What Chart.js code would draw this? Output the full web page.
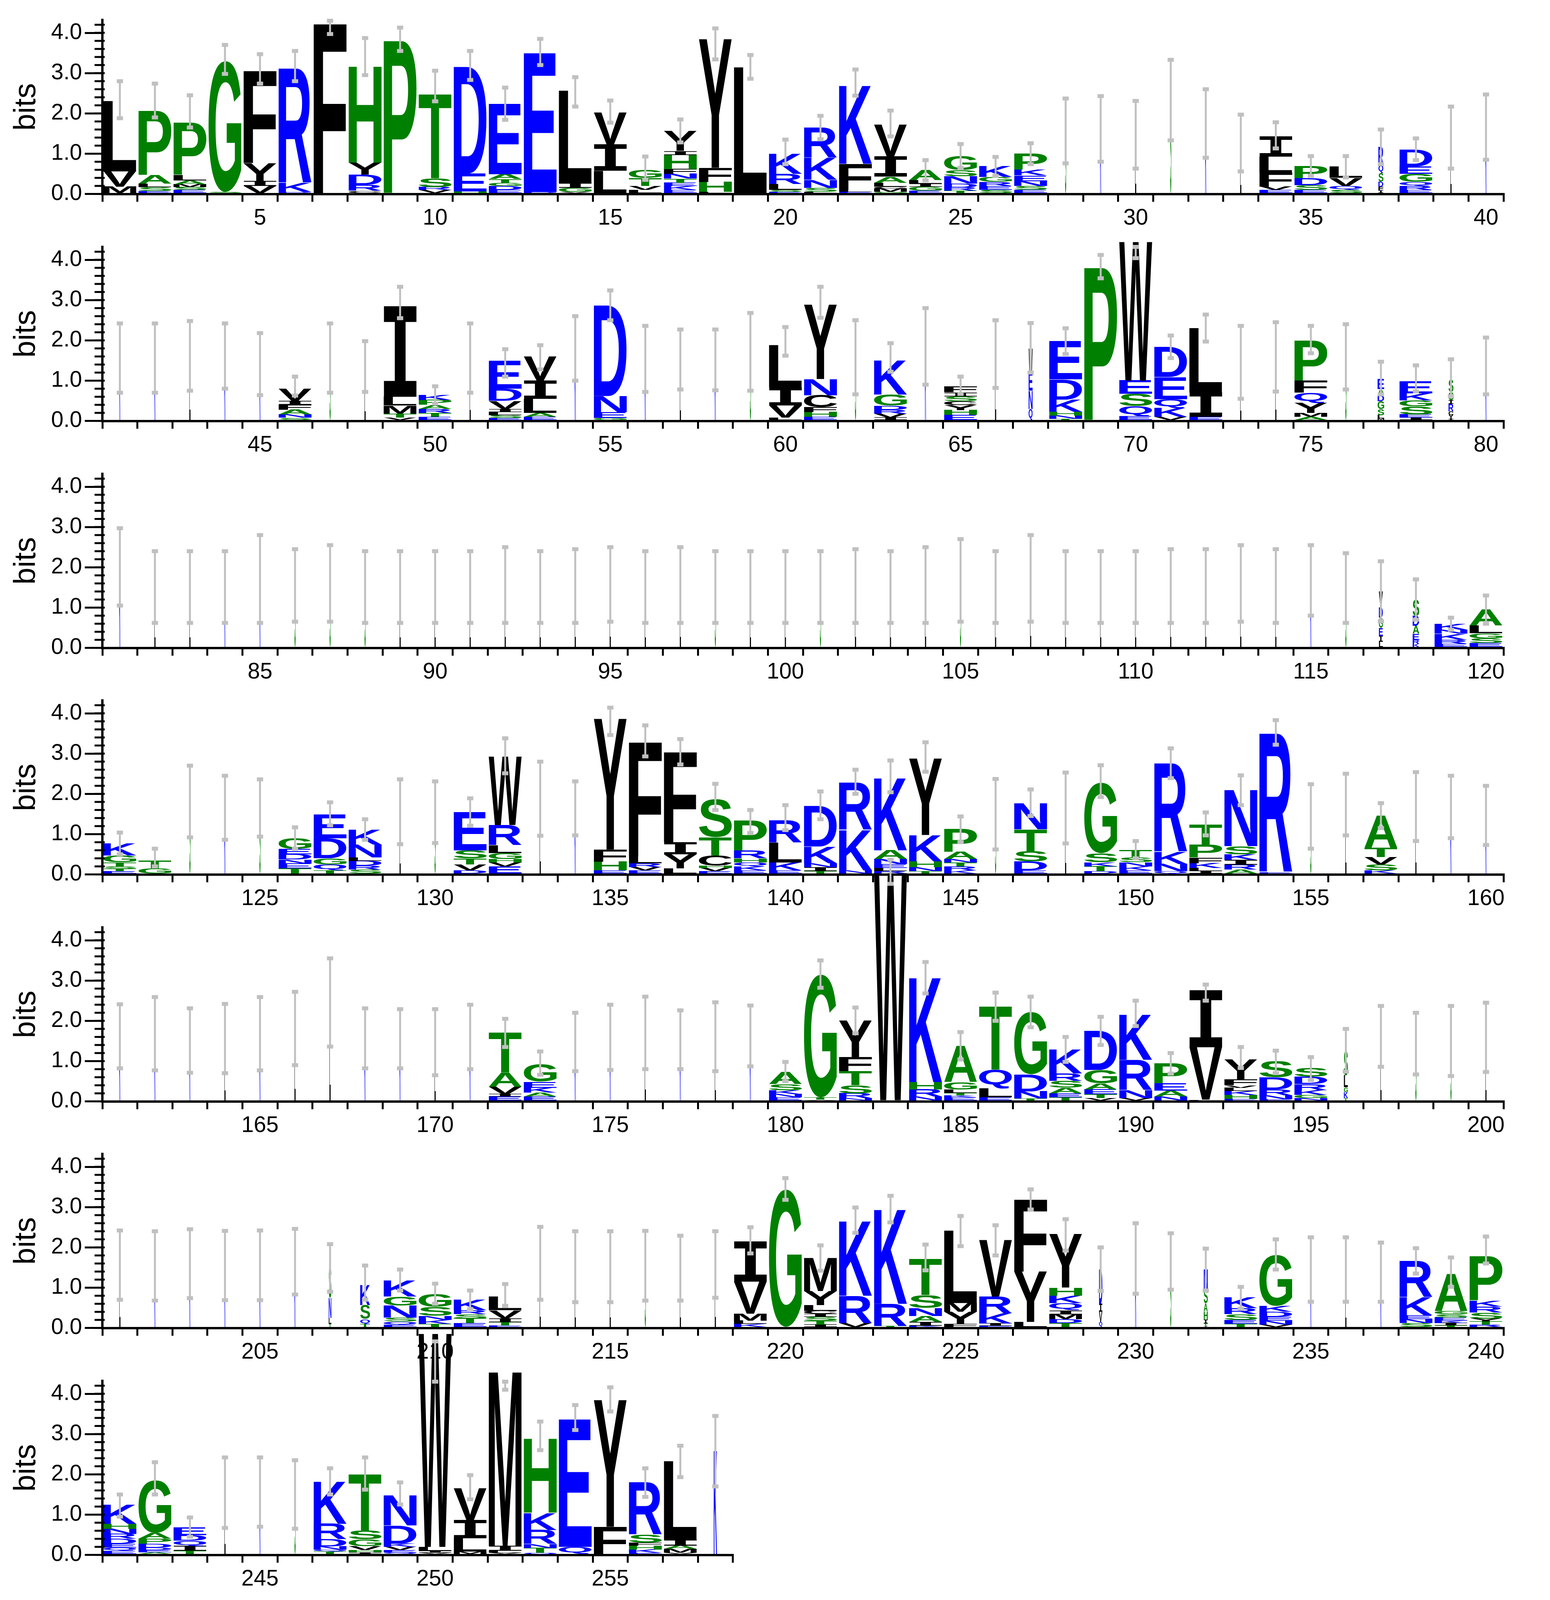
<!DOCTYPE html>
<html><head><meta charset="utf-8">
<script src="https://cdn.jsdelivr.net/npm/chart.js@4.4.1/dist/chart.umd.min.js"></script>
<style>
html,body{margin:0;padding:0;background:#fff;width:3967px;height:4167px;overflow:hidden;position:relative}
canvas{position:absolute;left:0}
#foot{position:absolute;right:118px;top:4095px;font:48px "Liberation Sans",Arial,sans-serif;color:#000}
</style></head><body>
<div id="foot">WebLogo 3.4</div>
<script>
// ---------------- DATA ----------------
const positions = Array.from({length:258},(_,i)=>String(i+1));
const rowStarts = [1,41,81,121,161,201,241];
const rowLengths = [40,40,40,40,40,40,18];
const yTicks = [0,1,2,3,4];
// stacks: letters bottom -> top with heights in bits
const stacks = [
"M.18 V.38 L1.75","E.07 S.1 L.09 A.21 P1.6","E.1 S.07 M.07 A.1 L.14 P1.3","S.05 G3.25","V.2 I.12 Y.45 F2.3",
"D.05 K.22 R2.85","F4.25","C.08 R.15 D.25 Y.3 H2.4","S.03 P3.8","V.1 R.07 S.22 T2.1",
"H.06 E.45 D2.65","E.1 D.1 G.07 T.1 A.12 E1.75","D.05 E3.45","V.05 G.1 I.12 L2.3","Q.03 L.55 I.65 V.8",
"L.1 V.1 T.2 G.2","E.1 K.1 E.08 T.1 N.12 F.12 H.35 I.1 Y.5","L.05 H.25 F.35 Y3.2","L3.15","E.05 S.05 L.15 R.25 K.5",
"L.05 S.1 N.2 K.55 R.75","E.05 L.05 F.65 K1.95","G.05 M.08 C.05 L.1 A.15 I.5 V.8","E.08 G.1 I.08 L.08 A.25","T.08 R.08 D.1 N.18 S.15 G.35",
"S.1 E.1 R.1 G.12 K.27","E.1 S.1 N.12 E.14 K.15 P.4","S1.55","K1.6","L1.45",
"S2.3","K1.75","L1.25","E.1 V.08 F.35 L.4 I.5","E.1 S.12 D.17 P.3",
"S.1 Q.1 V.2 L.28","I.08 F.1 D.12 S.22 Q.2 R.45","E.1 R.1 Q.1 G.2 E.18 D.42","L1.4","K1.65",
"K1.55","K1.55","L1.6","K1.6","K1.4",
"S.08 N.08 A.12 F.12 I.1 V.3","S1.55","L1.35","V.08 T.1 M.2 L.22 I2.25","E.1 T.1 R.1 A.1 P.12 K.12",
"L1.55","E.07 S.07 L.08 I.08 V.2 D.3 E.7","E.1 A.1 L.35 I.45 V.6","K1.8","G.07 E.15 N.4 D2.25",
"K1.55","L1.5","K1.5","S1.7","L.08 V.3 I.45 L1.05",
"E.1 H.12 F.12 C.3 N.4 Y1.85","S1.6","I.08 V.1 R.1 D.1 G.28 K.85","K1.85","E.15 H.12 Y.12 C.1 S.12 I.1 F.15",
"L1.65","Q.3 N.45 E.45 W.6","T.05 N.08 H.1 K.3 D.5 E.95","G.03 P3.8","E.12 Q.25 S.3 E.33 W3.45",
"V.1 K.22 Q.22 E.55 D.75","E.1 I.6 L1.6","L1.45","L1.6","A.1 M.1 Y.25 Q.25 F.3 P1.0",
"S1.6","M.06 L.08 S.15 G.2 D.15 A.15 E.25","I.08 E.08 S.2 G.15 K.17 E.3","I.06 Y.08 C.1 R.18 I.1 G.2 S.3","K1.35",
"K2.0","L1.5","L1.5","K1.5","K1.7","S1.55","S1.6","S1.5","L1.5","L1.5",
"L1.5","L1.55","L1.5","L1.55","L1.6","L1.5","L1.55","S1.5","L1.5","L1.5",
"S1.5","L1.55","L1.5","L1.6","S1.65","L1.5","L1.7","L1.5","L1.5","L1.5",
"L1.55","L1.55","L1.6","L1.55","K1.65","S1.5","L.15 I.15 E.2 G.25 D.25 V.4","K.1 R.1 E.15 A.2 D.25 S.4","E.1 R.1 K.15 N.1 K.15","E.12 S.12 G.12 L.2 A.4",
"E.08 T.06 S.06 T.1 G.17 K.3","G.15 T.2","S1.8","K1.65","S1.65",
"T.15 E.12 N.1 D.13 E.13 G.27","T.1 Q.15 G.15 D.5 E.6","S.12 R.1 D.12 L.08 N.32 K.37","L1.55","S1.55",
"D.1 V.15 T.15 S.2 E.95","E.2 V.1 H.08 G.15 L.2 R.5 W1.7","L1.9","K1.65","E.1 H.22 F.3 Y3.25",
"E.1 V.08 R.1 L.17 F2.85","L.15 Y.35 I.3 F2.25","E.08 V.08 H.06 C.25 T.45 S.95","E.1 K.1 Q.1 H.1 R.2 P.75","E.1 K.2 L.5 R.55",
"T.08 I.1 N.1 K.41 D1.0","N.1 K1.0 R1.18","R.08 L.08 E.1 N.12 A.22 K1.8","T.08 N.1 H.15 K.65 Y1.9","K.1 R.1 T.1 N.08 A.18 P.57",
"S1.5","E.1 D.22 S.25 T.55 N.65","L1.65","D.08 T.12 K.1 S.22 G1.75","E.1 K.1 N.1 S.12 T.18",
"Q.08 N.18 K.3 R2.2","I.08 L.08 K.12 F.14 P.32 T.5","A.12 R.12 I.12 K.14 S.2 N1.4","E.05 R3.45","S1.45",
"L1.7","K.1 S.15 V.18 T.23 A.8","L1.7","K1.7","K1.45",
"K1.6","K1.7","K1.5","L1.55","K1.7","L1.8","L2.45","K1.55","K1.55","L1.45",
"K1.6","E.12 I.06 V.18 A.35 T1.0","E.12 A.1 K.12 E.15 G.44","K1.45","K1.6","L1.7","K1.55","L1.6","K1.6","E.1 N.08 K.1 S.15 A.3",
"V.04 T.06 G3.05","N.08 R.12 S.2 T.35 F.35 Y.9","G.03 W5.65","N.12 R.18 H.18 K2.6","E.1 K.05 T.06 L.08 G.18 A.9",
"E.1 L.22 Q.47 T1.57","T.07 N.18 D.42 G1.55","T.1 E.1 A.14 S.17 R.18 K.6","V.08 T.1 E.12 A.15 G.33 D.97","V.08 N.2 R.75 K1.13",
"N.12 A.15 E.18 P.5","L.04 V1.3 I1.41","E.06 H.1 K.1 L.08 V.06 F.15 Y.5","E.05 N.1 R.15 D.3 S.4","N.08 G.08 K.12 R.15 D.18 S.22",
"T.08 K.15 G.12 L.3 S.6","L1.6","S1.45","S1.5","L1.6",
"L1.55","K1.55","K1.6","K1.55","K1.55","K1.65","T.1 L.15 N.5 S.75","T.1 Q.12 S.35 K.5","E.08 Q.08 S.1 N.3 G.22 K.4","T.1 K.1 N.1 S.22 G.32",
"E.12 T.12 S.1 R.1 K.26","E.06 T.08 I.1 V.2 L.33","L1.6","L1.5","L1.5","S1.55","L1.5","L1.55","K.1 L.08 M.17 V.8 I1.0","S.03 G3.41",
"I.08 T.1 S.1 I.07 C.07 L.15 Y.35 M.82","V.12 R.68 K1.86","T.05 R.55 K2.35","K.05 I.1 A.15 N.2 S.32 T.9","F.1 Y.3 M.22 L1.8",
"E.05 I.06 K.25 R.42 V1.4","L.15 Y1.25 F1.8","T.12 D.1 M.12 I.1 Q.18 K.18 H.2 Y1.33","Q.15 V.25 I.2 D.85","K1.7",
"S1.65","Y.05 T.06 I.1 H.2 A.2 S.35 N.5","T.1 E.1 S.14 R.15 K.27","V.08 N.1 E.1 D.12 K.15 G1.26","K1.45",
"L1.45","K1.4","S.12 N.1 E.1 K.45 R.9","T.06 I.06 K.06 E.08 S.08 G.08 A.93","R.08 T.08 Y.07 S.15 R.15 K.15 P1.1",
"E.1 Q.08 E.1 D.12 R.12 N.13 H.12 K.47","A.06 E.06 D.06 D.1 P.12 A.15 G1.3","T.1 I.12 Q.13 D.14 E.2","L1.55","K1.55",
"S1.5","T.08 Q.05 N.08 D.18 R.38 K1.05","I.06 H.06 V.1 G.17 S.22 T1.4","Q.06 E.06 V.08 K.08 D.45 N.75","V.05 I.05 L.1 W5.3",
"M.08 L.33 I.45 V.8","V.05 L.05 I.12 M4.35","Q.05 T.12 N.1 R.35 K.43 H1.85","Q.2 E3.17","F.7 Y3.15",
"E.05 K.08 H.1 F.07 S.2 R1.3","V.05 M.1 A.08 I.15 L1.95","K2.6"
];
const errLo = [
1.88,1.9,1.65,2.98,2.74,2.8,3.97,2.95,3.55,2.3,2.83,1.84,3.2,2.17,1.77,.35,1.28,3.34,2.86,.74,
1.36,2.44,1.43,.34,.65,.45,.74,.76,.8,.63,1.33,.9,.56,1.13,.45,.41,.74,.84,.63,.85,
.7,.7,.75,.8,.64,.63,.7,.72,2.55,.43,.7,1.1,1.28,1.0,2.5,.72,.78,.76,.75,1.62,
2.56,.66,1.22,.9,.67,.82,1.2,1.66,3.54,4.04,1.56,1.97,.55,.73,1.68,.78,.66,.73,.61,.66,
1.05,.62,.62,.62,.62,.65,.65,.62,.62,.62,.62,.62,.62,.62,.65,.62,.62,.62,.62,.62,
.62,.62,.62,.62,.65,.62,.65,.62,.62,.62,.62,.62,.65,.62,.8,.62,.66,.7,.45,.6,
.5,.2,.92,.86,.94,.64,1.22,.86,.75,.78,1.21,2.51,.96,.97,3.46,2.93,2.73,1.6,1.03,1.1,
1.37,2.0,2.04,2.55,.8,.62,1.45,.77,1.92,.4,2.39,.97,1.72,3.22,.64,.97,1.15,.83,.9,.73,
.82,.77,.71,.7,.77,.9,1.36,.82,.82,.65,.8,1.35,.66,.75,.78,.8,.8,.75,.87,.5,
2.82,1.69,5.4,2.68,1.04,2.0,1.84,.98,1.4,1.87,.69,2.5,.83,.7,.53,.74,.86,.67,.63,.73,
.7,.68,.74,.69,.69,.83,.9,.7,.93,.6,.47,.55,.7,.64,.64,.68,.68,.75,1.85,3.18,
1.42,2.36,2.62,1.43,2.03,1.8,2.94,1.92,.92,.85,.95,.93,.48,1.45,.65,.65,.65,1.35,1.02,1.6,
.95,1.5,.45,.67,.7,.65,1.5,1.62,1.25,4.3,1.38,4.1,2.6,3.1,3.56,1.44,1.93,1.7
];
const errHi = [
2.8,2.74,2.45,3.7,3.47,3.55,4.3,3.87,4.13,3.06,3.55,2.64,3.85,2.9,2.32,.93,1.85,4.11,3.45,1.35,
1.94,3.09,2.07,.84,1.24,.92,1.26,2.37,2.43,2.31,3.33,2.6,1.97,1.78,.94,.94,1.6,1.38,2.17,2.47,
2.42,2.42,2.48,2.42,2.18,1.1,2.42,1.98,3.33,.86,2.42,1.78,1.88,2.6,3.24,2.36,2.27,2.27,2.68,2.33,
3.33,2.5,1.93,2.8,1.1,2.5,2.43,2.3,4.12,4.32,2.12,2.64,2.36,2.45,2.36,2.4,1.47,1.38,1.53,2.07,
2.97,2.4,2.4,2.4,2.8,2.45,2.55,2.4,2.4,2.4,2.4,2.5,2.4,2.45,2.5,2.4,2.5,2.4,2.4,2.4,
2.4,2.45,2.4,2.5,2.7,2.4,2.8,2.4,2.4,2.4,2.45,2.45,2.55,2.45,2.55,2.35,2.15,1.7,.75,1.3,
1.04,.64,2.7,2.45,2.36,1.17,1.79,1.37,2.36,2.31,1.89,3.38,2.8,2.31,4.14,3.7,3.36,2.25,1.6,1.72,
2.06,2.6,2.83,3.28,1.44,2.37,2.11,2.53,2.71,.83,3.13,1.54,2.46,3.83,2.24,2.5,1.77,2.54,2.45,2.2,
2.41,2.59,2.31,2.42,2.59,2.72,3.55,2.31,2.29,2.29,2.4,2.05,1.24,2.2,2.4,2.6,2.26,2.46,2.38,.98,
3.5,2.33,6.0,3.46,1.72,2.7,2.6,1.6,2.1,2.5,1.2,2.9,1.35,1.26,1.1,1.8,2.37,2.2,2.37,2.45,
2.42,2.4,2.45,2.41,2.42,2.46,2.08,1.55,1.45,1.1,.93,1.09,2.51,2.4,2.4,2.41,2.29,2.4,2.5,3.72,
2.05,2.99,3.28,2.07,2.78,2.55,3.44,2.7,2.0,2.6,2.35,1.97,1.02,2.2,2.25,2.25,2.12,1.98,1.75,2.27,
1.5,2.3,.93,2.42,2.42,2.35,2.15,2.42,1.8,5.3,1.98,4.3,3.31,3.72,4.16,2.15,2.71,3.45
];
// column occupancy (letter width fraction); gap-rich columns are drawn thin
const thinCols = [28,29,30,31,32,33,39,40,41,42,43,44,45,47,48,51,54,56,57,58,59,62,64,66,73,74,76,80,
 81,82,83,84,85,86,87,88,89,90,91,92,93,94,95,96,97,98,99,100,101,102,103,104,105,106,107,108,109,110,111,112,113,114,115,116,
 123,124,125,129,130,133,134,146,148,155,156,158,159,160,161,162,163,164,165,166,167,168,169,170,171,174,175,176,177,178,179,
 197,198,199,200,201,202,203,204,205,206,213,214,215,216,217,218,230,231,235,236,237,244,245,246];
const narrowCols = [37,67,77,79,117,118,196,207,208,229,232,258];
const narrowOcc  = [.15,.12,.2,.15,.12,.2,.12,.08,.3,.1,.12,.1];

// ---------------- RENDER ----------------
const COLORS = {R:'#0000ff',K:'#0000ff',D:'#0000ff',E:'#0000ff',N:'#0000ff',Q:'#0000ff',
 S:'#008000',G:'#008000',H:'#008000',T:'#008000',A:'#008000',P:'#008000'};
const colorOf = c => COLORS[c] || '#000000';
const occupancy = positions.map((p,i)=>{
  const n=i+1; if(thinCols.includes(n)) return 0.035;
  const k=narrowCols.indexOf(n); return k>=0?narrowOcc[k]:1;
});
const parsed = stacks.map(s=>s.trim().split(/\s+/).map(t=>({c:t[0],h:parseFloat(t.slice(1))})));

const glyphCache={};
function glyphMetrics(ctx,ch,font){
  const key=font+ch; if(glyphCache[key]) return glyphCache[key];
  ctx.save(); ctx.font=font; const m=ctx.measureText(ch); ctx.restore();
  const g={l:m.actualBoundingBoxLeft,r:m.actualBoundingBoxRight,a:m.actualBoundingBoxAscent,d:m.actualBoundingBoxDescent};
  glyphCache[key]=g; return g;
}
function drawGlyph(ctx,ch,x,y,w,h){
  if(h<0.6||w<=0) return;
  const font = ch==='I' ? 'bold 200px "DejaVu Sans Mono"' : 'bold 200px "Liberation Sans"';
  const g=glyphMetrics(ctx,ch,font);
  const gw=g.l+g.r, gh=g.a+g.d;
  ctx.save();
  ctx.translate(x,y); ctx.scale(w/gw,h/gh);
  ctx.font=font; ctx.fillStyle=colorOf(ch); ctx.textAlign='left'; ctx.textBaseline='alphabetic';
  ctx.fillText(ch,g.l,g.a);
  ctx.restore();
}

const logoPlugin = {
  id:'logo',
  afterDatasetsDraw(chart){
    const ctx=chart.ctx, ys=chart.scales.y;
    chart.data.datasets.forEach((ds,d)=>{
      const meta=chart.getDatasetMeta(d);
      meta.data.forEach((el,i)=>{
        const v=ds.data[i]; if(!v) return;
        const occ=ds.occ[i], w=el.width*occ;
        drawGlyph(ctx,ds.letters[i],el.x-w/2,Math.min(el.y,el.base),w,Math.abs(el.base-el.y));
      });
    });
    // error bars
    const xs=chart.scales.x; const o=chart.options.plugins.logo;
    ctx.save(); ctx.strokeStyle='#c0c0c0'; ctx.fillStyle='#c0c0c0'; ctx.lineWidth=5;
    o.lo.forEach((lo,i)=>{
      const x=xs.getPixelForValue(i), y1=ys.getPixelForValue(lo), y2=ys.getPixelForValue(o.hi[i]);
      ctx.beginPath(); ctx.moveTo(x,y1); ctx.lineTo(x,y2); ctx.stroke();
      ctx.fillRect(x-8,y1-5,16,10); ctx.fillRect(x-8,y2-5,16,10);
    });
    ctx.restore();
    // minor y ticks
    ctx.save(); ctx.strokeStyle='#000'; ctx.lineWidth=5;
    for(let k=0;k<=21;k++){
      const y=ys.getPixelForValue(k*0.2);
      ctx.beginPath(); ctx.moveTo(ys.right-20,y); ctx.lineTo(ys.right+6,y); ctx.stroke();
    }
    ctx.restore();
  }
};

const ROW_PITCH=580.6, PAD_TOP=200, AREA_H=445.6, X_H=104.4, CANVAS_H=750;
rowStarts.forEach((start,r)=>{
  const n=rowLengths[r], s=start-1;
  const cv=document.createElement('canvas');
  cv.width=3967; cv.height=CANVAS_H;
  cv.style.width='3967px'; cv.style.height=CANVAS_H+'px';
  cv.style.top=(497+ROW_PITCH*r-AREA_H-PAD_TOP)+'px';
  document.body.appendChild(cv);
  const labels=positions.slice(s,s+n);
  const cols=parsed.slice(s,s+n);
  const depth=Math.max(...cols.map(c=>c.length));
  const datasets=[];
  for(let k=0;k<depth;k++){
    datasets.push({
      data:cols.map(c=>c[k]?c[k].h:0),
      letters:cols.map(c=>c[k]?c[k].c:''),
      occ:occupancy.slice(s,s+n),
      backgroundColor:'rgba(0,0,0,0)', borderWidth:0,
      barPercentage:1, categoryPercentage:0.94
    });
  }
  const rightPad = 3967 - (262 + n*89.65);
  new Chart(cv,{
    type:'bar',
    data:{labels,datasets},
    plugins:[logoPlugin],
    options:{
      responsive:false, animation:false, devicePixelRatio:1,
      layout:{padding:{top:PAD_TOP,left:0,right:rightPad,bottom:0}},
      plugins:{legend:{display:false},tooltip:{enabled:false},
        logo:{lo:errLo.slice(s,s+n),hi:errHi.slice(s,s+n)}},
      scales:{
        x:{stacked:true, offset:true,
           afterFit(a){a.height=X_H;},
           grid:{display:true,drawOnChartArea:false,tickLength:20,color:'#000',lineWidth:5},
           border:{display:true,color:'#000',width:6},
           ticks:{autoSkip:false,maxRotation:0,padding:8,color:'#000',
             font:{family:'"Liberation Sans", Arial, sans-serif',size:57},
             callback(v){const l=this.getLabelForValue(v); return (+l)%5===0?l:'';}}},
        y:{stacked:true,min:0,max:4.32,
           afterFit(a){a.width=262;},
           grid:{display:true,drawOnChartArea:false,tickLength:45,color:'#000',lineWidth:5},
           border:{display:true,color:'#000',width:6},
           afterBuildTicks(a){a.ticks=yTicks.map(v=>({value:v}));},
           ticks:{padding:7,color:'#000',font:{family:'"Liberation Sans", Arial, sans-serif',size:57},
             callback:v=>Number(v).toFixed(1)},
           title:{display:true,text:'bits',color:'#000',padding:{top:22,bottom:0},
             font:{family:'"Liberation Sans", Arial, sans-serif',size:78}}}
      }
    }
  });
});
</script>
</body></html>
